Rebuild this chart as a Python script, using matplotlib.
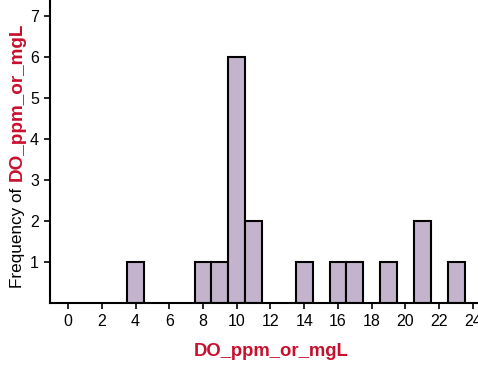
import numpy as np
import matplotlib
matplotlib.use("Agg")
import matplotlib.pyplot as plt

# histogram of DO values, one bin per unit
bin_centers = [4, 8, 9, 10, 11, 14, 16, 17, 19, 21, 23]
counts = [1, 1, 1, 6, 2, 1, 1, 1, 1, 2, 1]
xticks = list(range(0, 25, 2))
yticks = [1, 2, 3, 4, 5, 6, 7]

red = "#c8102e"
bar_color = "#c3b3cc"

plt.rcParams['font.family'] = ['Liberation Sans', 'DejaVu Sans']

W, H = 478, 365
fig = plt.figure(figsize=(W / 100, H / 100), dpi=100)
ax = fig.add_axes([50 / W, (H - 302.6) / H, 1 - 50 / W, 302.6 / H])

ax.bar(bin_centers, counts, width=1.0, color=bar_color,
       edgecolor="black", linewidth=1.5)

ax.set_xlim(-1.07, 24.3)
ax.set_ylim(0, 7.4)
ax.set_xticks(xticks)
ax.set_yticks(yticks)
ax.tick_params(axis="both", labelsize=11.5, length=4, width=1.2, direction="out", pad=4)

for side in ["top", "right"]:
    ax.spines[side].set_visible(False)
for side in ["left", "bottom"]:
    ax.spines[side].set_linewidth(1.5)

# two-colour y label
fig.text(17.5 / W, (H - 288) / H, "Frequency of", rotation=90,
         ha="center", va="bottom", fontsize=12.3, color="black")
fig.text(17.5 / W, (H - 181) / H, "DO_ppm_or_mgL", rotation=90,
         ha="center", va="bottom", fontsize=13.6, color=red, fontweight="bold")

# x label
fig.text(271 / W, (H - 352) / H, "DO_ppm_or_mgL", ha="center", va="center",
         fontsize=13.3, color=red, fontweight="bold")

fig.savefig("out.png", dpi=100)
